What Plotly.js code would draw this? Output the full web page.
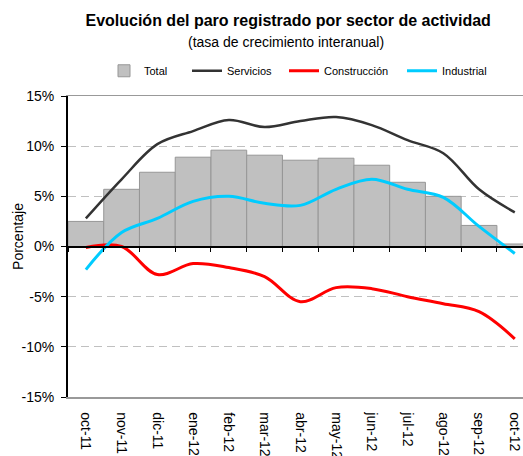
<!DOCTYPE html>
<html>
<head>
<meta charset="utf-8">
<script src="https://cdn.plot.ly/plotly-3.0.1.min.js"></script>
<style>html,body{margin:0;padding:0;background:#fff;}#chart{width:523px;height:456px;}</style>
</head>
<body>
<div id="chart"></div>
<script>
const months = ["oct-11","nov-11","dic-11","ene-12","feb-12","mar-12","abr-12","may-12","jun-12","jul-12","ago-12","sep-12","oct-12"];
const total = [2.5, 5.7, 7.4, 8.9, 9.6, 9.1, 8.6, 8.8, 8.1, 6.4, 5.0, 2.1, 0.25];
const servicios = [2.8, 6.7, 10.2, 11.5, 12.6, 11.9, 12.5, 12.9, 12.1, 10.6, 9.3, 5.7, 3.4];
const construccion = [-0.1, 0.0, -2.8, -1.7, -2.1, -3.0, -5.5, -4.1, -4.2, -5.0, -5.7, -6.5, -9.2];
const industrial = [-2.3, 1.4, 2.8, 4.5, 5.0, 4.3, 4.1, 5.7, 6.7, 5.7, 4.9, 2.0, -0.7];
const yTicks = [-15, -10, -5, 0, 5, 10, 15];
const yTickText = ["-15%", "-10%", "-5%", "0%", "5%", "10%", "15%"];

const F = "Liberation Sans, Arial, sans-serif";
const pct = v => v / 100;

const traces = [
  {type: "bar", name: "Total", x: months, y: total.map(pct), legend: "legend",
   marker: {color: "#c0c0c0", line: {color: "#969696", width: 1}}, hoverinfo: "skip"},
  {type: "scatter", mode: "lines", name: "Servicios", x: months, y: servicios.map(pct), legend: "legend2",
   line: {color: "#333333", width: 2.5, shape: "spline", smoothing: 1}},
  {type: "scatter", mode: "lines", name: "Construcción", x: months, y: construccion.map(pct), legend: "legend3",
   line: {color: "#ff0000", width: 3, shape: "spline", smoothing: 1}},
  {type: "scatter", mode: "lines", name: "Industrial", x: months, y: industrial.map(pct), legend: "legend4",
   line: {color: "#00ccff", width: 3, shape: "spline", smoothing: 1}},
  {type: "scatter", mode: "lines", x: months, y: months.map(() => null), xaxis: "x2",
   showlegend: false, hoverinfo: "skip"}
];

function leg(px) {
  return {
    orientation: "h", xref: "container", yref: "container",
    x: px / 523, xanchor: "left", y: 0.8766, yanchor: "top",
    font: {family: F, size: 11, color: "#000"}, bgcolor: "rgba(0,0,0,0)"
  };
}

const xr = [-0.5, 12.23];
const layout = {
  width: 523, height: 456,
  margin: {l: 68, r: 0, t: 96, b: 59},
  paper_bgcolor: "#fff", plot_bgcolor: "#fff",
  font: {family: F, color: "#000"},
  bargap: 0,
  showlegend: true,
  title: {
    text: "<b>Evolución del paro registrado por sector de actividad</b>",
    font: {family: F, size: 16, color: "#000"},
    xref: "container", x: 0.551, xanchor: "center",
    yref: "container", y: 0.956, yanchor: "middle"
  },
  legend: leg(104),
  legend2: leg(187),
  legend3: leg(284),
  legend4: leg(402),
  xaxis: {
    type: "category", range: xr, categoryorder: "array", categoryarray: months,
    showline: true, linecolor: "#999999", linewidth: 1.5, mirror: true,
    showgrid: false, ticks: "", tickangle: 90,
    tickfont: {family: F, size: 14, color: "#000"}, ticklabelstandoff: 11
  },
  xaxis2: {
    type: "category", range: xr, categoryorder: "array", categoryarray: months,
    overlaying: "x", anchor: "free", position: 0.5,
    showline: true, linecolor: "#000", linewidth: 2,
    tickson: "boundaries", ticks: "outside", ticklen: 4, tickcolor: "#000", tickwidth: 1,
    showticklabels: false, showgrid: false, zeroline: false
  },
  yaxis: {
    range: [-0.15, 0.15], tickvals: yTicks.map(pct), ticktext: yTickText,
    showline: true, linecolor: "#000", linewidth: 2,
    ticks: "outside", ticklen: 5, tickcolor: "#000", tickwidth: 1,
    showgrid: true, gridcolor: "#c0c0c0", griddash: "8px,5px", gridwidth: 1,
    zeroline: false,
    tickfont: {family: F, size: 14, color: "#000"}, ticklabelstandoff: 4
  },
  annotations: [
    {text: "(tasa de crecimiento interanual)", xref: "paper", yref: "paper",
     x: (286 - 68) / 455, y: (397 - 42) / 301, showarrow: false,
     font: {family: F, size: 14, color: "#000"}, xanchor: "center", yanchor: "middle"},
    {text: "Porcentaje", xref: "paper", yref: "paper", x: -0.11, y: 0.535,
     textangle: -90, showarrow: false, font: {family: F, size: 14, color: "#000"},
     xanchor: "center", yanchor: "middle"}
  ]
};

Plotly.newPlot("chart", traces, layout, {displayModeBar: false, staticPlot: true});
</script>
</body>
</html>
